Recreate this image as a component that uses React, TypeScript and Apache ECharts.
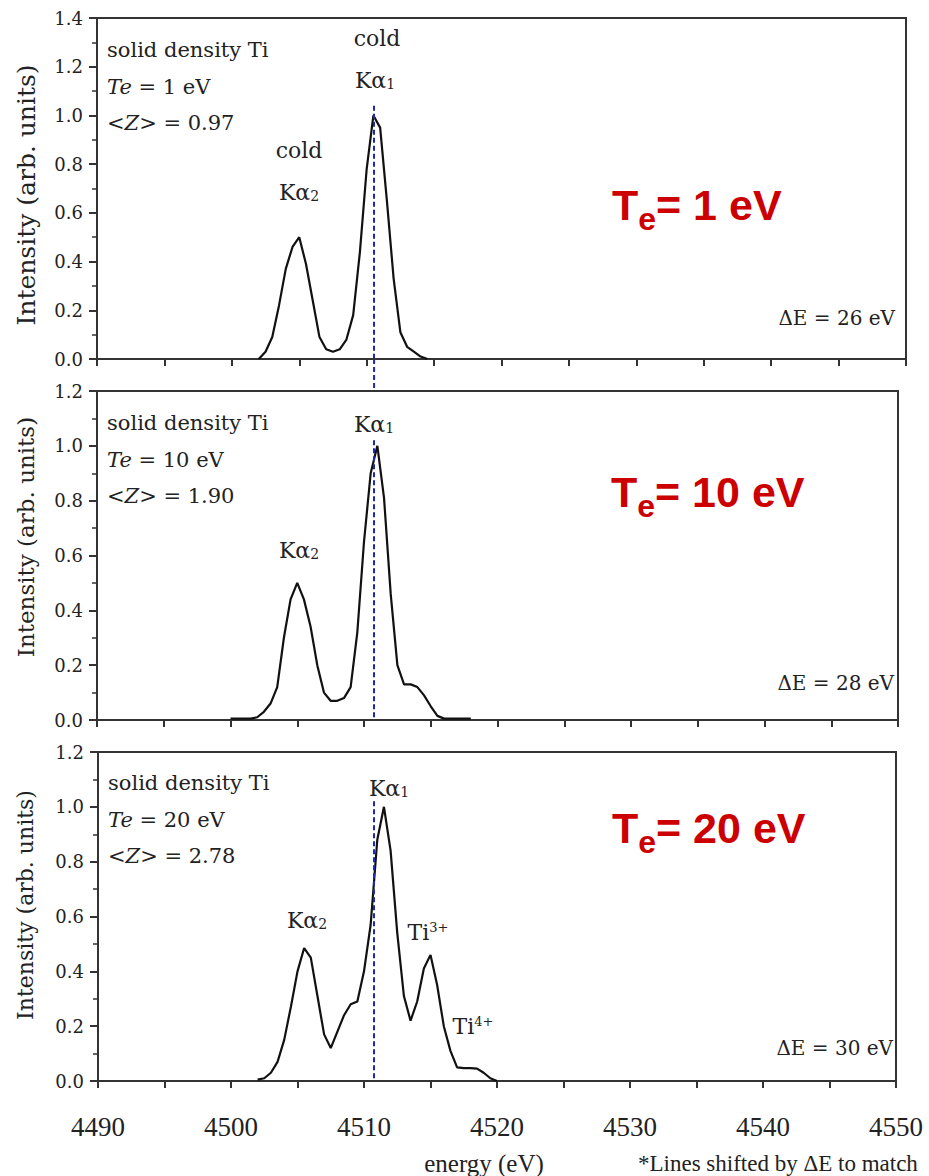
import React, { useEffect, useRef } from 'react';
import * as echarts from 'echarts';

// ---------- data ----------
const X_MIN = 4490;
const X_MAX = 4550;
const X_STEP = 5;
const Y_MAX = [1.4, 1.2, 1.2];
const BIN_WIDTH = 0.5; // eV, sampling of the simulated spectra
const START_ENERGY = [4502.0, 4500.0, 4502.0];

// Te = 1 eV, 4502.0 .. 4514.5
const SPEC_TE1 = [0, 0.03, 0.09, 0.22, 0.37, 0.46, 0.5, 0.39, 0.24, 0.09, 0.04, 0.03, 0.04,
  0.08, 0.18, 0.44, 0.78, 1.0, 0.95, 0.65, 0.33, 0.11, 0.05, 0.03, 0.01, 0];
// Te = 10 eV, 4500.0 .. 4518.0
const SPEC_TE10 = [0.005, 0.005, 0.005, 0.005, 0.01, 0.03, 0.06, 0.12, 0.3, 0.44, 0.5, 0.44,
  0.34, 0.2, 0.1, 0.07, 0.07, 0.08, 0.12, 0.32, 0.65, 0.9, 1.0, 0.81, 0.46, 0.2, 0.13, 0.13,
  0.12, 0.09, 0.05, 0.015, 0.005, 0.005, 0.005, 0.005, 0.005];
// Te = 20 eV, 4502.0 .. 4520.0
const SPEC_TE20 = [0.005, 0.01, 0.03, 0.07, 0.15, 0.27, 0.4, 0.485, 0.45, 0.31, 0.17, 0.12,
  0.18, 0.24, 0.28, 0.29, 0.4, 0.57, 0.88, 1.0, 0.84, 0.54, 0.31, 0.22, 0.29, 0.41, 0.46,
  0.35, 0.2, 0.11, 0.05, 0.047, 0.047, 0.045, 0.03, 0.01, 0.0];
const SPECTRA = [SPEC_TE1, SPEC_TE10, SPEC_TE20];

const DASH_ENERGY = [4510.55, 4510.75, 4510.75];
const DASH_TOP = [1.04, 1.02, 1.02];

const TEMPS = ['1', '10', '20'];
const ZMEAN = ['0.97', '1.90', '2.78'];
const SHIFTS = ['26', '28', '30'];

// ---------- styles / layout ----------
const SERIF = "'DejaVu Serif', serif";
const TNR = "'Liberation Serif', 'Times New Roman', serif";
const SANS = "'Liberation Sans', Arial, sans-serif";
const TXT = '#222';
const AXIS = '#333';
const RED = '#cc0000';
const BLUE = '#1f2aa8';

const GRIDS = [
  { left: 97, top: 18, width: 809, height: 341 },
  { left: 97, top: 391, width: 801, height: 329 },
  { left: 98, top: 752, width: 798, height: 329 },
];

const INFO_POS = [
  { x: 107, y: 50 },
  { x: 107, y: 423 },
  { x: 108, y: 783 },
];
const SHIFT_POS = [
  { x: 895, y: 318 },
  { x: 894, y: 683 },
  { x: 893, y: 1048 },
];
// cap-centre of the red "T"
const RED_POS = [
  { x: 612, y: 205 },
  { x: 611, y: 492 },
  { x: 612, y: 828 },
];
const YTITLE = [
  { x: 26, y: 195, size: 25 },
  { x: 26, y: 537, size: 23 },
  { x: 25, y: 905, size: 22 },
];

function plain(size: number, extra: any = {}) {
  return { fontFamily: SERIF, fontSize: size, fill: TXT, ...extra };
}

function infoBlock(i: number) {
  const { x, y } = INFO_POS[i];
  const rich = {
    n: plain(21),
    i: plain(21, { fontStyle: 'italic' }),
  };
  return [
    { type: 'text', x, y, style: { text: 'solid density Ti', ...plain(21), verticalAlign: 'middle' } },
    { type: 'text', x, y: y + 37, style: { text: `{i|Te}{n| = ${TEMPS[i]} eV}`, rich, verticalAlign: 'middle' } },
    { type: 'text', x, y: y + 73, style: { text: `{n|<}{i|Z}{n|> = ${ZMEAN[i]}}`, rich, verticalAlign: 'middle' } },
  ];
}

function subLabel(x: number, y: number, main: string, sub: string, sup = false) {
  return {
    type: 'text', x, y,
    style: {
      text: `{m|${main}}{s|${sub}}`,
      align: 'center',
      verticalAlign: 'middle',
      rich: {
        m: plain(22, { lineHeight: 22 }),
        s: plain(sup ? 13 : 14, { lineHeight: 6, verticalAlign: sup ? 'top' : 'bottom' }),
      },
    },
  };
}

function plainLabel(x: number, y: number, text: string, size = 22) {
  return { type: 'text', x, y, style: { text, ...plain(size), align: 'center', verticalAlign: 'middle' } };
}

function redLabel(i: number) {
  const { x, y } = RED_POS[i];
  const big = { fontFamily: SANS, fontSize: 43, fontWeight: 'bold', fill: RED, verticalAlign: 'middle' };
  const tW = 0.611 * 43;
  const eW = 0.556 * 32;
  return [
    { type: 'text', x, y, style: { ...big, text: 'T' } },
    { type: 'text', x: x + tW, y: y + 14, style: { ...big, fontSize: 32, text: 'e' } },
    { type: 'text', x: x + tW + eW, y, style: { ...big, text: `= ${TEMPS[i]} eV` } },
  ];
}

export default function App() {
  const ref = useRef<HTMLDivElement>(null);

  useEffect(() => {
    document.body.style.margin = '0';
    if (!ref.current) return;
    const chart = echarts.init(ref.current, null, { renderer: 'svg' });

    const xAxes = GRIDS.map((_, i) => ({
      type: 'value',
      gridIndex: i,
      min: X_MIN,
      max: X_MAX,
      interval: X_STEP,
      axisLine: { show: true, onZero: false, lineStyle: { color: AXIS, width: 2 } },
      axisTick: { show: true, length: 7, lineStyle: { color: AXIS, width: 2 } },
      splitLine: { show: false },
      axisLabel: {
        show: i === 2,
        margin: 32,
        fontFamily: TNR,
        fontSize: 27,
        color: TXT,
        formatter: (v: number) => (v % 10 === 0 ? String(v) : ''),
      },
    }));

    const yAxes = GRIDS.map((_, i) => ({
      type: 'value',
      gridIndex: i,
      min: 0,
      max: Y_MAX[i],
      interval: 0.2,
      axisLine: { show: true, lineStyle: { color: AXIS, width: 2 } },
      axisTick: { show: true, length: 8, lineStyle: { color: AXIS, width: 2 } },
      minorTick: { show: true, splitNumber: 2, length: 5, lineStyle: { color: AXIS, width: 1.5 } },
      splitLine: { show: false },
      minorSplitLine: { show: false },
      axisLabel: {
        margin: 14,
        fontFamily: SERIF,
        fontSize: 18,
        color: TXT,
        formatter: (v: number) => v.toFixed(1),
      },
    }));

    const series = SPECTRA.map((vals, i) => ({
      type: 'line',
      xAxisIndex: i,
      yAxisIndex: i,
      showSymbol: false,
      symbol: 'none',
      lineStyle: { color: '#111', width: 2.2 },
      data: vals.map((v, k) => [START_ENERGY[i] + k * BIN_WIDTH, v]),
      markLine: {
        silent: true,
        symbol: ['none', 'none'],
        label: { show: false },
        lineStyle: { color: BLUE, type: [5, 3], width: 2 },
        data: [[{ coord: [DASH_ENERGY[i], DASH_TOP[i]] }, { coord: [DASH_ENERGY[i], 0] }]],
      },
    }));

    chart.setOption({
      animation: false,
      backgroundColor: '#fff',
      grid: GRIDS.map((g) => ({ ...g, show: true, borderColor: AXIS, borderWidth: 2, containLabel: false })),
      xAxis: xAxes,
      yAxis: yAxes,
      series,
    });

    // dashed guide continuing through the gap between panel 1 and 2
    const pA = chart.convertToPixel({ xAxisIndex: 0, yAxisIndex: 0 }, [DASH_ENERGY[0], 0]) as number[];
    const pB = chart.convertToPixel({ xAxisIndex: 1, yAxisIndex: 1 }, [DASH_ENERGY[0], Y_MAX[1]]) as number[];

    const elements: any[] = [];
    for (let i = 0; i < 3; i++) {
      elements.push(...infoBlock(i));
      elements.push({
        type: 'text', x: SHIFT_POS[i].x, y: SHIFT_POS[i].y,
        style: { text: `ΔE = ${SHIFTS[i]} eV`, ...plain(20), align: 'right', verticalAlign: 'middle' },
      });
      elements.push(...redLabel(i));
      elements.push({
        type: 'text', x: YTITLE[i].x, y: YTITLE[i].y, rotation: Math.PI / 2,
        style: { text: 'Intensity (arb. units)', ...plain(YTITLE[i].size), align: 'center', verticalAlign: 'middle' },
      });
    }
    // peak labels
    elements.push(plainLabel(377, 38, 'cold'));
    elements.push(subLabel(375, 80, 'Kα', '1'));
    elements.push(plainLabel(299, 150, 'cold'));
    elements.push(subLabel(299, 192, 'Kα', '2'));
    elements.push(subLabel(374, 424, 'Kα', '1'));
    elements.push(subLabel(299, 550, 'Kα', '2'));
    elements.push(subLabel(389, 788, 'Kα', '1'));
    elements.push(subLabel(307, 920, 'Kα', '2'));
    elements.push(subLabel(428, 932, 'Ti', '3+', true));
    elements.push(subLabel(473, 1026, 'Ti', '4+', true));
    // bottom texts
    elements.push({
      type: 'text', x: 484, y: 1163,
      style: { text: 'energy (eV)', fontFamily: TNR, fontSize: 25, fill: TXT, align: 'center', verticalAlign: 'middle' },
    });
    elements.push({
      type: 'text', x: 638, y: 1163,
      style: { text: '*Lines shifted by ΔE to match', fontFamily: TNR, fontSize: 23, fill: TXT, align: 'left', verticalAlign: 'middle' },
    });
    elements.push({
      type: 'line', silent: true,
      shape: { x1: pA[0], y1: pA[1], x2: pA[0], y2: pB[1] },
      style: { stroke: BLUE, lineWidth: 2, lineDash: [5, 3] },
    });

    chart.setOption({ graphic: elements });

    return () => chart.dispose();
  }, []);

  return <div ref={ref} style={{ width: 929, height: 1176 }} />;
}
